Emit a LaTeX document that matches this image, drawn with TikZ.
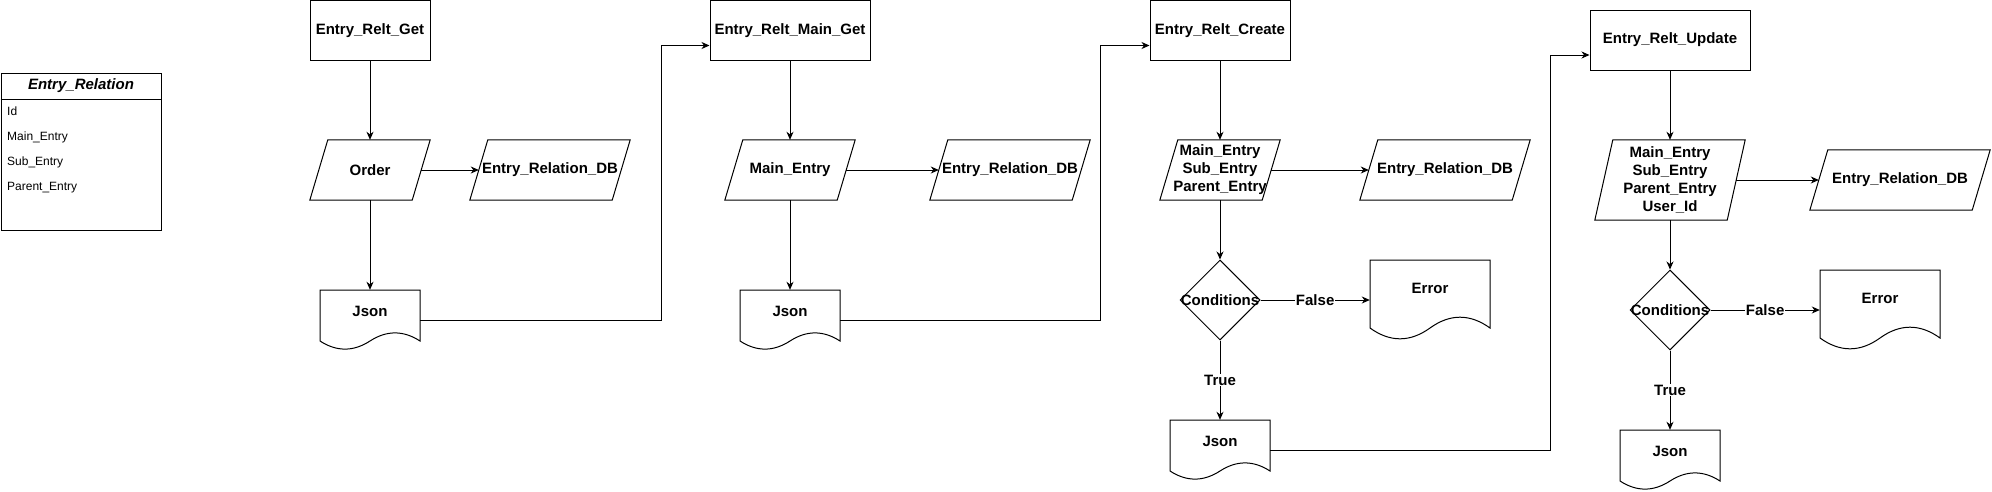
\documentclass[tikz,border=0pt]{standalone}
\usepackage{fontspec}
\setmainfont{Liberation Sans}
\usetikzlibrary{arrows.meta,shapes.geometric}
\tikzset{
  x=1pt,y=-1pt,
  lw/.style={line width=1pt},
  big/.style={font=\fontsize{15}{18}\selectfont\bfseries},
  small/.style={font=\fontsize{12}{14}\selectfont},
  box/.style={lw,draw,big,inner sep=0pt,align=center},
  ghost/.style={inner sep=0pt,big,align=center},
  lbl/.style={inner sep=0pt,big,align=center},
  dia/.style={lw,draw,diamond,inner sep=0pt,minimum width=80pt,minimum height=80pt},
  arr/.style={lw,-{Stealth[length=8pt,width=7pt,inset=2.5pt]}},
  con/.style={lw},
  edgelab/.style={fill=white,inner sep=1pt,big},
}
\newcommand\parabox[6]{%
  \node[ghost,minimum width=#4pt,minimum height=#5pt] (#1) at (#2,#3) {#6};
  \draw[lw,line join=miter] (#1.south west) -- ([xshift=18pt]#1.north west) -- (#1.north east) -- ([xshift=-18pt]#1.south east) -- cycle;
}
\newcommand\docbox[6]{%
  \node[inner sep=0pt,minimum width=#3pt,minimum height=#4pt] (#5) at (#1+#3/2,#2+#4/2) {};
  \draw[lw] (#1,#2) -- (#1+#3,#2) -- (#1+#3,#2+0.85*#4)
    .. controls (#1+0.8333*#3,#2+0.67*#4) and (#1+0.6667*#3,#2+0.67*#4) .. (#1+0.5*#3,#2+0.85*#4)
    .. controls (#1+0.3333*#3,#2+1.03*#4) and (#1+0.1667*#3,#2+1.03*#4) .. (#1,#2+0.85*#4) -- cycle;
  \node[lbl] (#5-t) at (#1+0.5*#3,#2+0.35*#4) {#6};
}
\begin{document}
\begin{tikzpicture}
\useasboundingbox (0,0) rectangle (1992,491);
% table
\node[lw,draw,inner sep=0pt,minimum width=160pt,minimum height=157pt] (tab) at (81,151.5) {};
\draw[lw] (tab.west |- 0,99) -- (tab.east |- 0,99);
\node[inner sep=0pt,font=\fontsize{15}{18}\selectfont\bfseries\itshape] (tabh) at (81,86) {Entry\_Relation};
\node[small,anchor=west,inner sep=0pt] (r1) at (7,111) {Id};
\node[small,anchor=west,inner sep=0pt] (r2) at (7,137) {Main\_Entry};
\node[small,anchor=west,inner sep=0pt] (r3) at (7,162) {Sub\_Entry};
\node[small,anchor=west,inner sep=0pt] (r4) at (7,188) {Parent\_Entry};

% column 1
\node[box,minimum width=120pt,minimum height=60pt] (get1) at (370,30.5) {Entry\_Relt\_Get};
\parabox{order}{370}{170}{120}{60}{Order}
\parabox{db1}{550}{170}{160}{60}{Entry\_Relation\_DB}
\docbox{320}{290}{100}{60}{json1}{Json}
\draw[arr] (get1.south) -- (order.north);
\draw[arr] (order.south) -- (json1.north);
\draw[arr] ([xshift=-9pt]order.east) -- ([xshift=9pt]db1.west);

% column 2
\node[box,minimum width=160pt,minimum height=60pt] (get2) at (790,30.5) {Entry\_Relt\_Main\_Get};
\parabox{main2}{790}{170}{130}{60}{Main\_Entry}
\parabox{db2}{1010}{170}{160}{60}{Entry\_Relation\_DB}
\docbox{740}{290}{100}{60}{json2}{Json}
\draw[arr] (get2.south) -- (main2.north);
\draw[arr] (main2.south) -- (json2.north);
\draw[arr] ([xshift=-9pt]main2.east) -- ([xshift=9pt]db2.west);
\coordinate (k1) at (661,45);
\draw[arr] (json1.east) -- (json1.east -| k1) |- ([yshift=-15pt]get2.west);

% column 3
\node[box,minimum width=140pt,minimum height=60pt] (create) at (1220,30.5) {Entry\_Relt\_Create};
\parabox{para3}{1220}{170}{120}{60}{Main\_Entry\\Sub\_Entry\\Parent\_Entry}
\parabox{db3}{1445}{170}{170}{60}{Entry\_Relation\_DB}
\node[dia] (c3) at (1220,300) {};
\node[lbl] (c3t) at (c3) {Conditions};
\docbox{1370}{260}{120}{80}{err3}{Error}
\docbox{1170}{420}{100}{60}{json3}{Json}
\draw[arr] (create.south) -- (para3.north);
\draw[arr] ([xshift=-9pt]para3.east) -- ([xshift=9pt]db3.west);
\draw[arr] (para3.south) -- (c3.north);
\draw[arr] (c3.east) -- node[edgelab,midway] (f3) {False} (err3.west);
\draw[arr] (c3.south) -- node[edgelab,midway] (t3) {True} (json3.north);
\coordinate (k2) at (1100,45);
\draw[arr] (json2.east) -- (json2.east -| k2) |- ([yshift=-15pt]create.west);

% column 4
\node[box,minimum width=160pt,minimum height=60pt] (update) at (1670,40) {Entry\_Relt\_Update};
\parabox{para4}{1670}{180}{150}{80}{Main\_Entry\\Sub\_Entry\\Parent\_Entry\\User\_Id}
\parabox{db4}{1900}{180}{180}{60}{Entry\_Relation\_DB}
\node[dia] (c4) at (1670,310) {};
\node[lbl] (c4t) at (c4) {Conditions};
\docbox{1820}{270}{120}{80}{err4}{Error}
\docbox{1620}{430}{100}{60}{json4}{Json}
\draw[arr] (update.south) -- (para4.north);
\draw[arr] ([xshift=-9pt]para4.east) -- ([xshift=9pt]db4.west);
\draw[arr] (para4.south) -- (c4.north);
\draw[arr] (c4.east) -- node[edgelab,midway] (f4) {False} (err4.west);
\draw[arr] (c4.south) -- node[edgelab,midway] (t4) {True} (json4.north);
\coordinate (k3) at (1550,55);
\draw[arr] (json3.east) -- (json3.east -| k3) |- ([yshift=-15pt]update.west);
\end{tikzpicture}
\end{document}
